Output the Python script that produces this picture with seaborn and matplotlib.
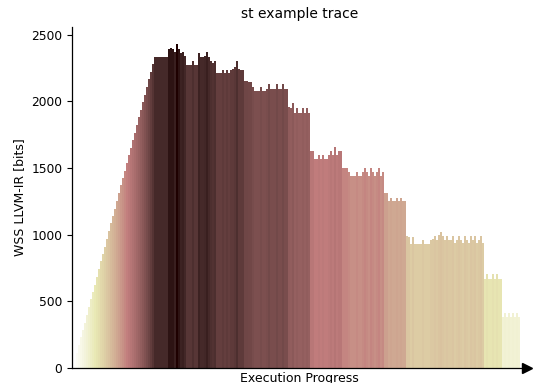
import matplotlib
matplotlib.use("Agg")
import matplotlib.pyplot as plt
import numpy as np
import pandas as pd
import seaborn as sns

# Working-set size (bits) per execution step, split by program phase
ramp_up = [15, 60, 115, 170, 230, 285, 340, 400, 455, 515, 570, 625, 685, 740,
           800, 855, 910, 970, 1025, 1085, 1140, 1195, 1255, 1310, 1370, 1425,
           1480, 1540, 1595, 1650, 1710, 1765, 1825, 1880, 1935, 1995, 2050,
           2110, 2165, 2220, 2280, 2335]
peak_phase = [2335, 2335, 2335, 2335, 2335, 2335,
              2395, 2400, 2395, 2370, 2432, 2395,
              2365, 2370, 2340,
              2270, 2270, 2270, 2300, 2270, 2270,
              2360, 2335, 2335, 2340, 2370, 2335,
              2300, 2290, 2305,
              2210, 2210, 2210, 2235, 2210, 2235, 2210,
              2235, 2240, 2260, 2300, 2240, 2235, 2235]
mid_phase = [2150, 2150, 2145, 2145,
             2110, 2080, 2080, 2080, 2110, 2080, 2080,
             2095, 2130, 2095, 2095, 2095, 2130, 2095, 2095, 2130, 2095, 2095,
             1955, 1950, 1985,
             1915, 1950, 1915, 1915, 1950, 1915, 1950, 1915,
             1630, 1630,
             1570, 1570, 1600, 1570, 1600, 1570, 1570,
             1600, 1630, 1600, 1660, 1600, 1630, 1630,
             1500, 1500, 1500,
             1470, 1440, 1440, 1440, 1470, 1440, 1440, 1470, 1500, 1470, 1440,
             1500, 1470, 1440, 1470, 1500, 1440, 1470,
             1315, 1315,
             1250, 1275, 1250, 1250, 1275, 1250, 1275, 1250, 1250]
tail_phase = [990, 985,
              930, 985, 930, 930, 930, 930, 960, 930, 930, 930,
              960, 965, 990, 960, 1000, 1020, 990, 960, 990, 960, 960, 990,
              940, 960, 990, 960, 940, 990, 960, 940, 990, 960, 990, 940, 960,
              990, 940,
              670, 705, 670, 670, 705, 670, 705, 670, 670,
              385, 410, 385, 410, 385, 410, 385, 410, 385]

wss = ramp_up + peak_phase + mid_phase + tail_phase
df = pd.DataFrame({"step": np.arange(len(wss)), "wss": wss})

sns.set_style("ticks")
plt.rcParams.update({
    "text.color": "black",
    "axes.labelcolor": "black",
    "axes.edgecolor": "black",
    "xtick.color": "black",
    "ytick.color": "black",
})

fig = plt.figure(figsize=(5.34, 3.83), dpi=100)
ax = fig.add_axes([0.135, 0.039, 0.852, 0.891])

sns.barplot(data=df, x="step", y="wss", hue="wss", palette="pink_r",
            legend=False, dodge=False, width=1.0, saturation=1.0,
            linewidth=0, ax=ax)

ax.set_xlim(-0.5, len(wss) + 3.0)
ax.set_ylim(0, 2560)
ax.set_xticks([])
ax.set_yticks([0, 500, 1000, 1500, 2000, 2500])
ax.tick_params(axis="y", labelsize=8.8, length=3.5, width=0.8)
for side in ("left", "bottom"):
    ax.spines[side].set_linewidth(0.9)
sns.despine(ax=ax)

# Arrow head at the end of the time axis
ax.plot(1, 0, ">k", markersize=7, transform=ax.get_yaxis_transform(),
        clip_on=False)

ax.set_title("st example trace", fontsize=10)
ax.set_xlabel("Execution Progress", fontsize=9, labelpad=3)
ax.set_ylabel("WSS LLVM-IR [bits]", fontsize=9)

fig.savefig("out.png", dpi=100)
